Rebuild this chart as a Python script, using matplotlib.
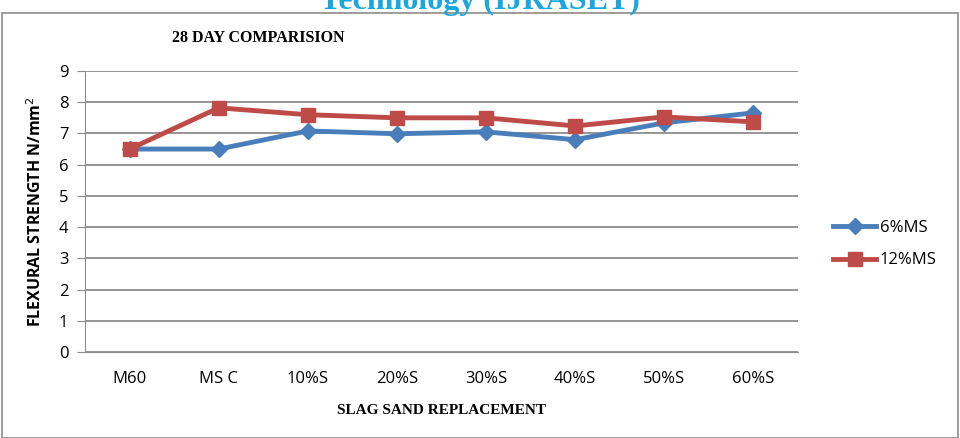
import matplotlib
matplotlib.use("Agg")
import matplotlib.pyplot as plt
from matplotlib.patches import Rectangle

categories = ["M60", "MS C", "10%S", "20%S", "30%S", "40%S", "50%S", "60%S"]
ms6 = [6.5, 6.5, 7.08, 6.99, 7.05, 6.8, 7.34, 7.66]
ms12 = [6.5, 7.82, 7.6, 7.5, 7.5, 7.24, 7.53, 7.37]
series_names = ["6%MS", "12%MS"]
y_ticks = list(range(0, 10))

fig = plt.figure(figsize=(9.6, 4.38), dpi=100)

# outer chart frame
fig.patches.append(Rectangle((2 / 960, 0.0), 956 / 960, (438 - 13) / 438,
                             transform=fig.transFigure, fill=False,
                             edgecolor="#8c8c8c", linewidth=1.2))

# clipped header text from the page above the chart
fig.text(0.5, 1 - 9 / 438, "Technology (IJRASET)", ha="center", va="baseline",
         color="#1aa7e0", fontsize=23, fontweight="bold", family="Liberation Serif")

ax = fig.add_axes([85 / 960, (438 - 352) / 438, (798 - 85) / 960, (352 - 71) / 438])
x = range(len(categories))
ax.plot(x, ms6, color="#4a7ebb", linewidth=3.5, marker="D", markersize=8,
        label=series_names[0])
ax.plot(x, ms12, color="#be4b48", linewidth=3.5, marker="s", markersize=10,
        label=series_names[1])

ax.set_xlim(-0.5, len(categories) - 0.5)
ax.set_ylim(0, 9)
ax.set_yticks(y_ticks)
ax.set_xticks(list(x))
ax.set_xticklabels(categories)
ax.grid(axis="y", color="#8c8c8c", linewidth=1.3)
ax.set_axisbelow(True)
for s in ["top", "right"]:
    ax.spines[s].set_visible(False)
ax.spines["left"].set_color("#8c8c8c")
ax.spines["bottom"].set_color("#8c8c8c")
ax.tick_params(axis="y", length=6, color="#8c8c8c", labelsize=12, pad=6)
ax.tick_params(axis="x", length=0, labelsize=12, pad=14)
for lab in ax.get_xticklabels() + ax.get_yticklabels():
    lab.set_family("Open Sans")

ax.set_ylabel("FLEXURAL STRENGTH N/mm$^2$", fontsize=11.5, fontweight="bold",
              family="Open Sans", labelpad=10)
ax.set_xlabel("SLAG SAND REPLACEMENT", fontsize=11, fontweight="bold",
              family="Liberation Serif", labelpad=12)

fig.text(172 / 960, 1 - 42 / 438, "28 DAY COMPARISION", fontsize=11.5,
         fontweight="bold", family="Liberation Serif")

leg = fig.legend(loc="center left", bbox_to_anchor=(818 / 960, 1 - 244 / 438),
                 frameon=False, fontsize=12, handlelength=2.6, labelspacing=1.0,
                 handletextpad=0.2)
for t in leg.get_texts():
    t.set_family("Open Sans")

fig.savefig("out.png", dpi=100)
